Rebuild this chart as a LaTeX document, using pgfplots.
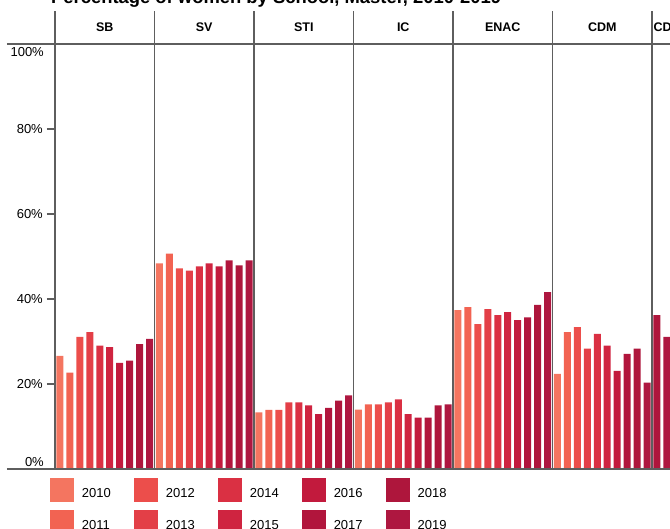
\documentclass[border=0pt]{standalone}
\usepackage{pgfplots}
\pgfplotsset{compat=1.18}
\usepackage{fontspec}
\setmainfont{Liberation Sans}
\definecolor{c2010}{HTML}{F47560}
\definecolor{c2011}{HTML}{F26352}
\definecolor{c2012}{HTML}{EC4E4B}
\definecolor{c2013}{HTML}{E33F47}
\definecolor{c2014}{HTML}{DA3043}
\definecolor{c2015}{HTML}{CF2440}
\definecolor{c2016}{HTML}{C21A3D}
\definecolor{c2017}{HTML}{B1153C}
\definecolor{c2018}{HTML}{AE163C}
\definecolor{c2019}{HTML}{AE1740}
\definecolor{linecol}{HTML}{5E5E5E}
\newcommand\tickfont{\fontsize{13}{15}\selectfont}
\newcommand\headfont{\fontsize{12.5}{14}\selectfont\bfseries}
\begin{document}
\begin{tikzpicture}[x=1pt,y=1pt]
\useasboundingbox (0,0) rectangle (670,528);
\clip (0,0) rectangle (670,528);
\node[anchor=base west, font=\fontsize{18.4}{20}\selectfont\bfseries, inner sep=0pt] at (51,524.5) {Percentage of women by School, Master, 2010-2019};
\begin{axis}[
  at={(55pt,59pt)}, anchor=south west,
  scale only axis, width=696.5pt, height=425pt,
  xmin=0, xmax=70, ymin=0, ymax=100,
  clip=false,
  axis line style={draw=none},
  xtick=\empty,
  ytick={20,40,60,80},
  ytick pos=left,
  tick align=outside,
  major tick length=8pt,
  y tick style={draw=linecol, line width=1.3pt},
  yticklabel={\pgfmathprintnumber{\tick}\%},
  /pgf/number format/assume math mode=true,
  ticklabel style={font=\tickfont},
  yticklabel style={inner xsep=0pt, xshift=-4pt},
  ybar, bar width=0.7, bar shift=0pt,
  every axis plot/.append style={draw=none, bar shift=0pt},
  legend image code/.code={\fill[#1] (0pt,-8pt) rectangle (24pt,16pt); \path (32pt,0pt);},
  legend columns=2, transpose legend,
  legend cell align=left,
  legend style={at={(-0.00718,-0.02118)}, anchor=north west, draw=none, fill=none,
    inner sep=0pt, outer sep=0pt, row sep=8pt, font=\tickfont,
    nodes={inner sep=0pt},
    /tikz/every even column/.append style={column sep=23pt}},
]
\addplot[fill=c2010] coordinates {(0.5,26.6) (10.5,48.4) (20.5,13.3) (30.5,14.0) (40.5,37.4) (50.5,22.4)};
\addplot[fill=c2011] coordinates {(1.5,22.7) (11.5,50.7) (21.5,13.9) (31.5,15.2) (41.5,38.1) (51.5,32.2)};
\addplot[fill=c2012] coordinates {(2.5,31.1) (12.5,47.2) (22.5,13.9) (32.5,15.2) (42.5,34.1) (52.5,33.4)};
\addplot[fill=c2013] coordinates {(3.5,32.2) (13.5,46.7) (23.5,15.7) (33.5,15.7) (43.5,37.6) (53.5,28.3)};
\addplot[fill=c2014] coordinates {(4.5,29.0) (14.5,47.7) (24.5,15.7) (34.5,16.4) (44.5,36.2) (54.5,31.8)};
\addplot[fill=c2015] coordinates {(5.5,28.7) (15.5,48.4) (25.5,15.0) (35.5,12.9) (45.5,36.9) (55.5,29.0)};
\addplot[fill=c2016] coordinates {(6.5,25.0) (16.5,47.7) (26.5,12.9) (36.5,12.1) (46.5,35.0) (56.5,23.1)};
\addplot[fill=c2017] coordinates {(7.5,25.5) (17.5,49.1) (27.5,14.4) (37.5,12.1) (47.5,35.7) (57.5,27.1)};
\addplot[fill=c2018] coordinates {(8.5,29.4) (18.5,47.9) (28.5,16.1) (38.5,15.0) (48.5,38.6) (58.5,28.3) (60.5,36.2)};
\addplot[fill=c2019] coordinates {(9.5,30.6) (19.5,49.1) (29.5,17.3) (39.5,15.2) (49.5,41.6) (59.5,20.3) (61.5,31.1)};
\legend{2010,2011,2012,2013,2014,2015,2016,2017,2018,2019}
% frame lines
\pgfplotsinvokeforeach{0,10,20,30,40,50,60}{
  \draw[linecol, line width=1.3pt] (axis cs:#1,0) -- ([yshift=33pt]axis cs:#1,100);
}
\draw[linecol, line width=1.3pt] ([xshift=-48pt]axis cs:0,0) -- (axis cs:70,0);
\draw[linecol, line width=1.3pt] ([xshift=-48pt]axis cs:0,100) -- (axis cs:70,100);
\node[anchor=base east, font=\tickfont, inner sep=0pt] at ([xshift=-11pt,yshift=3pt]axis cs:0,0) {0\%};
\node[anchor=north east, font=\tickfont, inner sep=0pt] at ([xshift=-11pt,yshift=-3pt]axis cs:0,100) {100\%};
% headers
\node[font=\headfont, inner sep=0pt] at ([yshift=17pt]axis cs:5,100) {SB};
\node[font=\headfont, inner sep=0pt] at ([yshift=17pt]axis cs:15,100) {SV};
\node[font=\headfont, inner sep=0pt] at ([yshift=17pt]axis cs:25,100) {STI};
\node[font=\headfont, inner sep=0pt] at ([yshift=17pt]axis cs:35,100) {IC};
\node[font=\headfont, inner sep=0pt] at ([yshift=17pt]axis cs:45,100) {ENAC};
\node[font=\headfont, inner sep=0pt] at ([yshift=17pt]axis cs:55,100) {CDM};
\node[font=\headfont, inner sep=0pt, anchor=west] at ([xshift=1.5pt,yshift=17pt]axis cs:60,100) {CDH};
\end{axis}
\end{tikzpicture}
\end{document}
